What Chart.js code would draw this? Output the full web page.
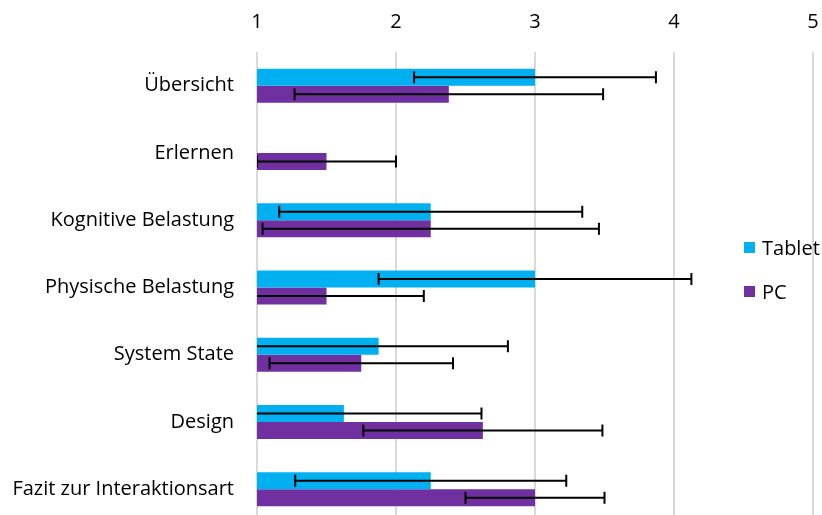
<!DOCTYPE html>
<html>
<head>
<meta charset="utf-8">
<script src="https://cdn.jsdelivr.net/npm/chart.js@4"></script>
<style>
  html, body { margin: 0; padding: 0; background: #fff; overflow: hidden; }
  #wrap { position: relative; width: 822px; height: 523px; }
  #legend { position: absolute; left: 744px; top: 235px; font-family: 'Open Sans', sans-serif; font-size: 20px; color: #000; }
  #legend div { display: flex; align-items: center; height: 24px; margin-bottom: 20px; }
  #legend div:last-child { margin-bottom: 0; }
  #legend span.box { display: inline-block; width: 11px; height: 11px; margin-right: 7px; }
</style>
</head>
<body>
<div id="wrap">
  <canvas id="myChart"></canvas>
  <div id="legend">
    <div><span class="box" style="background:#00B0F0"></span>Tablet</div>
    <div><span class="box" style="background:#7030A0"></span>PC</div>
  </div>
</div>
<script>
const categories = ['Übersicht', 'Erlernen', 'Kognitive Belastung', 'Physische Belastung', 'System State', 'Design', 'Fazit zur Interaktionsart'];
const tabletValues = [3.0, null, 2.25, 3.0, 1.875, 1.625, 2.25];
const tabletErrors = [0.87, null, 1.09, 1.125, 0.93, 0.99, 0.975];
const pcValues = [2.38, 1.5, 2.25, 1.5, 1.75, 2.625, 3.0];
const pcErrors = [1.11, 0.5, 1.21, 0.7, 0.66, 0.86, 0.5];
const xTicks = [1, 2, 3, 4, 5];

// error bars drawn over the bars, clipped to the plot area
const errorBars = {
    id: 'errorBars',
    afterDatasetsDraw(chart) {
        const ctx = chart.ctx;
        const xs = chart.scales.x;
        const area = chart.chartArea;
        ctx.save();
        ctx.beginPath();
        ctx.rect(area.left, area.top, area.right - area.left, area.bottom - area.top);
        ctx.clip();
        ctx.strokeStyle = '#000';
        ctx.lineWidth = 2;
        chart.data.datasets.forEach((ds, di) => {
            const meta = chart.getDatasetMeta(di);
            meta.data.forEach((bar, i) => {
                const v = ds.data[i];
                const e = ds.errors[i];
                if (v == null || e == null) return;
                const y = bar.y;
                const lo = xs.getPixelForValue(v - e);
                const hi = xs.getPixelForValue(v + e);
                ctx.beginPath();
                ctx.moveTo(lo, y); ctx.lineTo(hi, y);
                ctx.moveTo(lo, y - 6); ctx.lineTo(lo, y + 6);
                ctx.moveTo(hi, y - 6); ctx.lineTo(hi, y + 6);
                ctx.stroke();
            });
        });
        ctx.restore();
    }
};

const ctx = document.getElementById('myChart');
new Chart(ctx, {
    type: 'bar',
    data: {
        labels: categories,
        datasets: [
            { label: 'Tablet', data: tabletValues, errors: tabletErrors, backgroundColor: '#00B0F0' },
            { label: 'PC', data: pcValues, errors: pcErrors, backgroundColor: '#7030A0' }
        ]
    },
    options: {
        indexAxis: 'y',
        responsive: true,
        maintainAspectRatio: false,
        animation: false,
        layout: { padding: { left: 8, right: 9, top: 0, bottom: 0 } },
        datasets: { bar: { categoryPercentage: 0.505, barPercentage: 1.0 } },
        plugins: { legend: { display: false }, tooltip: { enabled: false } },
        scales: {
            x: {
                position: 'top',
                min: 1, max: 5,
                afterBuildTicks: axis => { axis.ticks = xTicks.map(v => ({ value: v })); },
                afterFit: s => { s.height = 52; s.paddingLeft = 0; s.paddingRight = 0; },
                grid: { color: '#d9d9d9', lineWidth: 2, drawTicks: false },
                border: { display: false },
                ticks: { color: '#000', font: { family: 'Open Sans', size: 20 }, padding: 18 }
            },
            y: {
                afterFit: s => { s.width = 249; s.paddingTop = 0; s.paddingBottom = 0; },
                grid: { display: false },
                border: { display: false },
                ticks: { color: '#000', font: { family: 'Open Sans', size: 20 }, padding: 15 }
            }
        }
    },
    plugins: [errorBars]
});
</script>
</body>
</html>
